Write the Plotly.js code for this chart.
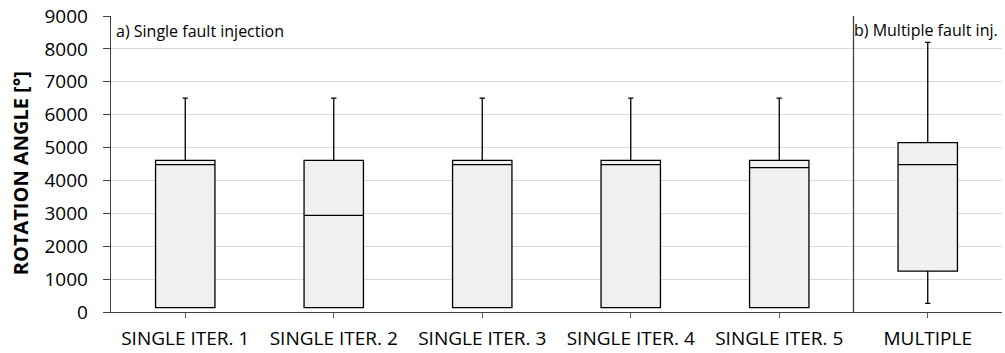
<!DOCTYPE html>
<html>
<head>
<meta charset="utf-8">
<script src="https://cdn.plot.ly/plotly-3.0.1.min.js"></script>
<style>html,body{margin:0;padding:0;background:#fff;}#chart{width:1005px;height:353px;}</style>
</head>
<body>
<div id="chart"></div>
<script>
const categories = ["SINGLE ITER. 1", "SINGLE ITER. 2", "SINGLE ITER. 3", "SINGLE ITER. 4", "SINGLE ITER. 5", "MULTIPLE"];
const lowerWhisker = [130, 130, 130, 130, 130, 260];
const q1Values = [130, 130, 130, 130, 130, 1240];
const medianValues = [4480, 2940, 4480, 4480, 4390, 4480];
const q3Values = [4610, 4610, 4610, 4610, 4610, 5150];
const upperWhisker = [6500, 6500, 6500, 6500, 6500, 8200];
const yTicks = [0, 1000, 2000, 3000, 4000, 5000, 6000, 7000, 8000, 9000];

const font = "Open Sans, Noto Sans, sans-serif";

const trace = {
  type: "box",
  x: categories,
  q1: q1Values,
  median: medianValues,
  q3: q3Values,
  lowerfence: lowerWhisker,
  upperfence: upperWhisker,
  fillcolor: "#f0f0f0",
  line: {color: "#000000", width: 1.3},
  whiskerwidth: 0.09,
  boxpoints: false,
  hoverinfo: "skip",
  showlegend: false
};

const layout = {
  width: 1005,
  height: 353,
  margin: {l: 111, r: 3, t: 16, b: 41},
  paper_bgcolor: "#ffffff",
  plot_bgcolor: "#ffffff",
  boxgap: 0.6,
  boxgroupgap: 0,
  xaxis: {
    type: "category",
    categoryorder: "array",
    categoryarray: categories,
    range: [-0.5, 5.5],
    showgrid: false,
    showline: true,
    linecolor: "#404040",
    linewidth: 1.3,
    ticks: "outside",
    ticklen: 5,
    tickcolor: "#595959",
    ticklabelstandoff: 4,
    tickfont: {family: font, size: 19, color: "#000000"},
    zeroline: false
  },
  yaxis: {
    range: [0, 9000],
    tickvals: yTicks,
    ticktext: yTicks.map(String),
    showgrid: true,
    gridcolor: "#d9d9d9",
    gridwidth: 1,
    showline: true,
    linecolor: "#404040",
    linewidth: 1.3,
    ticks: "outside",
    ticklen: 7,
    tickcolor: "#404040",
    ticklabelstandoff: 11,
    tickfont: {family: font, size: 19, color: "#000000"},
    zeroline: false
  },
  shapes: [
    {type: "line", xref: "x", yref: "paper", x0: 4.5, x1: 4.5, y0: 0, y1: 1, line: {color: "#404040", width: 1.3}}
  ],
  annotations: [
    {text: "<b>ROTATION ANGLE [°]</b>", xref: "paper", yref: "paper", x: (20 - 111) / 891, y: (312.5 - 173.5) / 296.5, xanchor: "center", yanchor: "middle", textangle: -90, showarrow: false, font: {family: font, size: 20, color: "#000000"}},
    {text: "a) Single fault injection", xref: "paper", yref: "paper", x: 0.003, y: 0.992, xanchor: "left", yanchor: "top", showarrow: false, font: {family: font, size: 16, color: "#000000"}},
    {text: "b) Multiple fault inj.", xref: "paper", yref: "paper", x: 0.998, y: 0.995, xanchor: "right", yanchor: "top", showarrow: false, font: {family: font, size: 16, color: "#000000"}}
  ]
};

Plotly.newPlot("chart", [trace], layout, {displayModeBar: false, staticPlot: true});
</script>
</body>
</html>
